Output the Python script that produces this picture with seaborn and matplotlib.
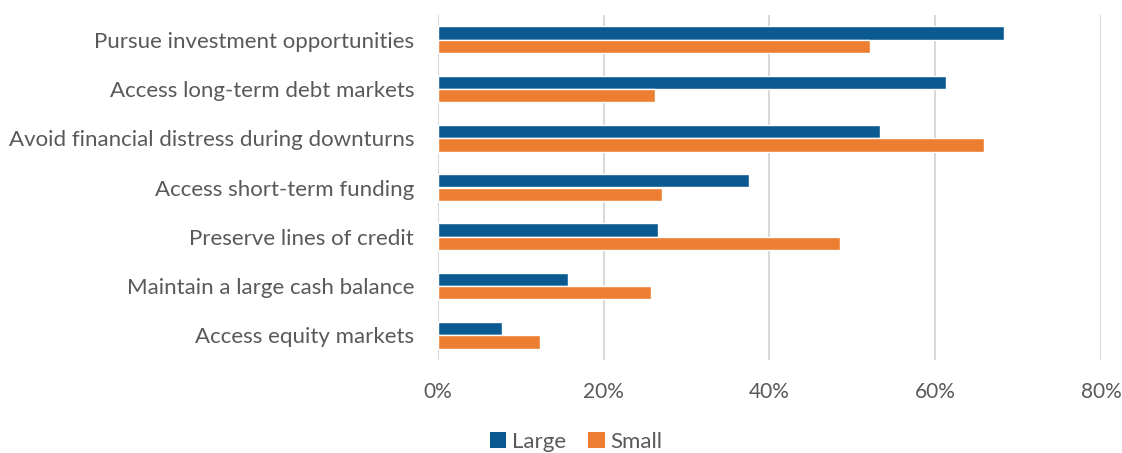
import numpy as np
import pandas as pd
import matplotlib.pyplot as plt
import seaborn as sns
from matplotlib.patches import Patch
from matplotlib.ticker import PercentFormatter

# Data
categories = ["Pursue investment opportunities",
              "Access long-term debt markets",
              "Avoid financial distress during downturns",
              "Access short-term funding",
              "Preserve lines of credit",
              "Maintain a large cash balance",
              "Access equity markets"]
large = [68.3, 61.3, 53.4, 37.6, 26.6, 15.7, 7.8]
small = [52.1, 26.2, 65.9, 27.1, 48.5, 25.7, 12.3]
series = ["Large", "Small"]
colors = ["#0A5A91", "#ED7D31"]
xticks = [0, 20, 40, 60, 80]

df = pd.DataFrame({"Reason": categories * 2,
                   "Share": large + small,
                   "Size": ["Large"] * len(categories) + ["Small"] * len(categories)})

sns.set_style("white")
plt.rcParams["font.family"] = ["Lato", "DejaVu Sans"]
text_col = "#595959"

fig = plt.figure(figsize=(11.22, 4.53), dpi=100)
ax = fig.add_axes([437.7 / 1122, 1 - 360 / 453, (1101 - 437.7) / 1122, 345 / 453])

sns.barplot(data=df, y="Reason", x="Share", hue="Size", order=categories,
            hue_order=series, palette=colors, width=0.54, orient="h",
            saturation=1, legend=False, ax=ax, zorder=3)

ax.set_xlim(0, 80)
ax.set_xticks(xticks)
ax.xaxis.set_major_formatter(PercentFormatter(decimals=0))
ax.grid(True, axis="x", color="#D9D9D9", linewidth=1.5, zorder=0)
ax.grid(False, axis="y")
for s in ax.spines.values():
    s.set_visible(False)
ax.set_xlabel("")
ax.set_ylabel("")
ax.tick_params(axis="x", length=0, pad=16, labelsize=15, labelcolor=text_col)
ax.tick_params(axis="y", length=0, pad=17, labelsize=16, labelcolor=text_col)

handles = [Patch(facecolor=c, edgecolor="none") for c in colors]
fig.legend(handles, series, loc="center", bbox_to_anchor=(576 / 1122, 1 - 442 / 453),
           ncol=2, frameon=False, fontsize=16, labelcolor=text_col,
           handlelength=0.75, handleheight=0.75, handletextpad=0.25, columnspacing=1.0)

fig.savefig("out.png", dpi=100)
